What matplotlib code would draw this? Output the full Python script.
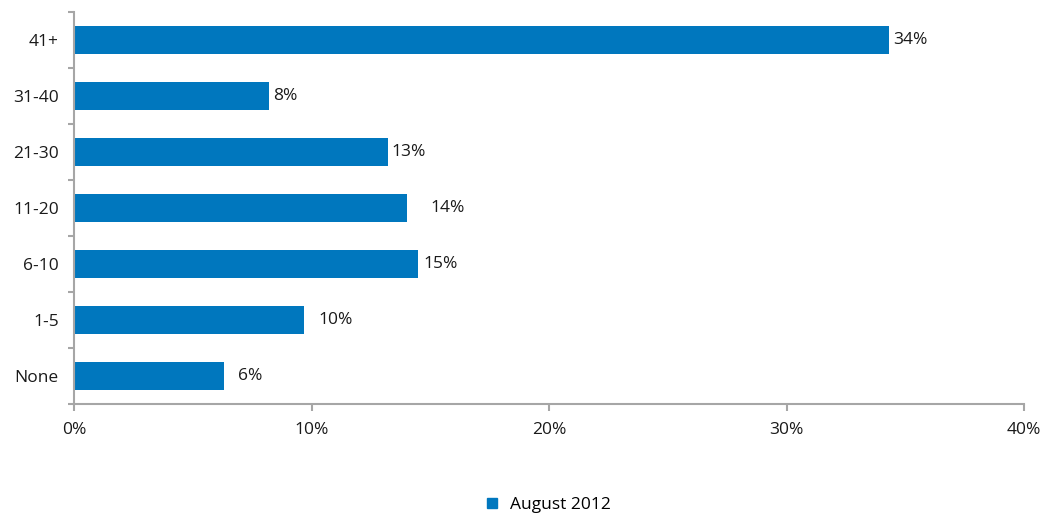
import matplotlib
matplotlib.use("Agg")
import matplotlib.pyplot as plt
from matplotlib.lines import Line2D

# Share of respondents by count, August 2012
categories = ["None", "1-5", "6-10", "11-20", "21-30", "31-40", "41+"]
values = [6.3, 9.7, 14.5, 14.0, 13.2, 8.2, 34.3]
series_name = "August 2012"
xticks = [0, 10, 20, 30, 40]

# gap between bar end and its label, in percentage points
label_gaps = [0.6, 0.6, 0.2, 1.0, 0.15, 0.2, 0.2]

bar_color = "#0077be"
axis_color = "#a6a6a6"

plt.rcParams["font.family"] = ["Open Sans", "DejaVu Sans"]
plt.rcParams["font.size"] = 12.5

fig = plt.figure(figsize=(10.44, 5.16), dpi=100)
ax = fig.add_axes([74 / 1044, 1 - 404 / 516, 950 / 1044, 392 / 516])

ypos = range(len(categories))
ax.barh(ypos, values, height=0.5, color=bar_color)

for y, v, g in zip(ypos, values, label_gaps):
    ax.text(v + g, y, f"{int(v + 0.5)}%", va="center", ha="left", color="#1a1a1a")

ax.set_xlim(0, 40)
ax.set_ylim(-0.5, len(categories) - 0.5)

ax.set_xticks(xticks)
ax.set_xticklabels([f"{t}%" for t in xticks])
ax.set_yticks(list(ypos))
ax.set_yticklabels(categories)
ax.set_yticks([i + 0.5 for i in range(-1, len(categories))], minor=True)

for side in ["top", "right"]:
    ax.spines[side].set_visible(False)
for side in ["left", "bottom"]:
    ax.spines[side].set_color(axis_color)
    ax.spines[side].set_linewidth(1.5)

ax.tick_params(axis="x", direction="out", length=5, width=1.5, color=axis_color,
               pad=8, labelcolor="#1a1a1a")
ax.tick_params(axis="y", which="major", length=0, pad=11, labelcolor="#1a1a1a")
ax.tick_params(axis="y", which="minor", direction="out", length=4, width=1.5,
               color=axis_color)

handle = Line2D([], [], marker="s", linestyle="none", markersize=7,
                markerfacecolor=bar_color, markeredgecolor=bar_color)
fig.legend([handle], [series_name], loc="center", bbox_to_anchor=(0.524, 1 - 505 / 516),
           frameon=False, handletextpad=0.5, handlelength=1.0, fontsize=12.5)

fig.savefig("out.png", dpi=100)
